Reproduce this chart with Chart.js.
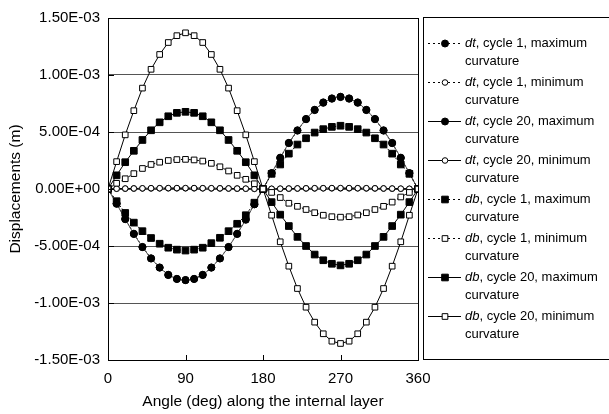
<!DOCTYPE html>
<html>
<head>
<meta charset="utf-8">
<script src="https://cdn.jsdelivr.net/npm/chart.js@4.4.1/dist/chart.umd.min.js"></script>
<style>
  html, body { margin: 0; padding: 0; background: #fff; }
  #wrap { width: 609px; height: 414px; position: relative; }
</style>
</head>
<body>
<div id="wrap"><canvas id="chart"></canvas></div>
<script>
// angle along the internal layer (deg)
const angles = [0, 10, 20, 30, 40, 50, 60, 70, 80, 90, 100, 110, 120, 130, 140, 150, 160, 170, 180,
                190, 200, 210, 220, 230, 240, 250, 260, 270, 280, 290, 300, 310, 320, 330, 340, 350, 360];

// displacements (m)
const dtMax1 = [0, -1.28e-4, -2.62e-4, -3.92e-4, -5.08e-4, -6.08e-4, -6.88e-4, -7.52e-4, -7.88e-4, -7.98e-4,
                -7.88e-4, -7.52e-4, -6.88e-4, -6.08e-4, -5.08e-4, -3.92e-4, -2.66e-4, -1.33e-4, 0,
                1.38e-4, 2.72e-4, 4.02e-4, 5.12e-4, 6.12e-4, 6.92e-4, 7.56e-4, 7.92e-4, 8.06e-4,
                7.92e-4, 7.56e-4, 6.92e-4, 6.12e-4, 5.12e-4, 4.02e-4, 2.72e-4, 1.38e-4, 0];
const dtMin1 = [0, 2e-6, 3e-6, 4e-6, 5e-6, 5e-6, 6e-6, 6e-6, 6e-6, 6e-6, 6e-6, 6e-6, 5e-6, 5e-6, 4e-6, 3e-6, 2e-6, 1e-6, 0,
                1e-6, 2e-6, 3e-6, 4e-6, 5e-6, 5e-6, 6e-6, 6e-6, 6e-6, 6e-6, 6e-6, 5e-6, 5e-6, 4e-6, 3e-6, 2e-6, 1e-6, 0];
const dtMax20 = [0, -1.3e-4, -2.65e-4, -3.95e-4, -5.1e-4, -6.1e-4, -6.9e-4, -7.55e-4, -7.9e-4, -8.0e-4,
                 -7.9e-4, -7.55e-4, -6.9e-4, -6.1e-4, -5.1e-4, -3.95e-4, -2.7e-4, -1.35e-4, 0,
                 1.4e-4, 2.75e-4, 4.05e-4, 5.15e-4, 6.15e-4, 6.95e-4, 7.6e-4, 7.95e-4, 8.1e-4,
                 7.95e-4, 7.6e-4, 6.95e-4, 6.15e-4, 5.15e-4, 4.05e-4, 2.75e-4, 1.4e-4, 0];
const dtMin20 = [0, 3e-6, 4e-6, 5e-6, 6e-6, 7e-6, 7e-6, 8e-6, 8e-6, 8e-6, 8e-6, 7e-6, 7e-6, 6e-6, 5e-6, 4e-6, 3e-6, 2e-6, 0,
                 2e-6, 3e-6, 4e-6, 5e-6, 6e-6, 7e-6, 7e-6, 8e-6, 8e-6, 8e-6, 7e-6, 7e-6, 6e-6, 5e-6, 4e-6, 3e-6, 2e-6, 0];
const dbMax1 = [0, -1.07e-4, -2.1e-4, -2.95e-4, -3.7e-4, -4.3e-4, -4.8e-4, -5.15e-4, -5.32e-4, -5.4e-4,
                -5.32e-4, -5.15e-4, -4.75e-4, -4.28e-4, -3.7e-4, -3.05e-4, -2.3e-4, -1.2e-4, 0,
                1.33e-4, 2.15e-4, 3.1e-4, 3.9e-4, 4.45e-4, 4.95e-4, 5.25e-4, 5.45e-4, 5.55e-4,
                5.45e-4, 5.25e-4, 4.95e-4, 4.45e-4, 3.9e-4, 3.1e-4, 2.15e-4, 1.33e-4, 0];
const dbMin1 = [0, 0.5e-4, 0.9e-4, 1.35e-4, 1.8e-4, 2.15e-4, 2.35e-4, 2.5e-4, 2.58e-4, 2.6e-4,
                2.55e-4, 2.45e-4, 2.25e-4, 1.95e-4, 1.58e-4, 1.2e-4, 0.85e-4, 0.46e-4, 0,
                -0.3e-4, -0.75e-4, -1.25e-4, -1.52e-4, -1.8e-4, -2.08e-4, -2.3e-4, -2.43e-4, -2.47e-4,
                -2.43e-4, -2.28e-4, -2.08e-4, -1.8e-4, -1.52e-4, -1.15e-4, -0.7e-4, -0.3e-4, 0];
const dbMax20 = [0, 1.2e-4, 2.35e-4, 3.35e-4, 4.3e-4, 5.15e-4, 5.85e-4, 6.38e-4, 6.68e-4, 6.77e-4,
                 6.68e-4, 6.38e-4, 5.85e-4, 5.15e-4, 4.3e-4, 3.35e-4, 2.35e-4, 1.2e-4, 0,
                 -1.15e-4, -2.25e-4, -3.25e-4, -4.2e-4, -5.0e-4, -5.75e-4, -6.25e-4, -6.56e-4, -6.7e-4,
                 -6.56e-4, -6.25e-4, -5.75e-4, -5.0e-4, -4.2e-4, -3.25e-4, -2.25e-4, -1.15e-4, 0];
const dbMin20 = [0, 2.4e-4, 4.75e-4, 6.87e-4, 8.85e-4, 10.5e-4, 11.8e-4, 12.85e-4, 13.45e-4, 13.7e-4,
                 13.45e-4, 12.85e-4, 11.8e-4, 10.5e-4, 8.85e-4, 6.87e-4, 4.75e-4, 2.4e-4, 0,
                 -2.3e-4, -4.63e-4, -6.77e-4, -8.73e-4, -10.37e-4, -11.68e-4, -12.7e-4, -13.35e-4, -13.55e-4,
                 -13.35e-4, -12.7e-4, -11.68e-4, -10.37e-4, -8.73e-4, -6.77e-4, -4.63e-4, -2.3e-4, 0];

const seriesLabels = [
    'dt, cycle 1, maximum curvature',
    'dt, cycle 1, minimum curvature',
    'dt, cycle 20, maximum curvature',
    'dt, cycle 20, minimum curvature',
    'db, cycle 1, maximum curvature',
    'db, cycle 1, minimum curvature',
    'db, cycle 20, maximum curvature',
    'db, cycle 20, minimum curvature'
];
const seriesValues = [dtMax1, dtMin1, dtMax20, dtMin20, dbMax1, dbMin1, dbMax20, dbMin20];

const xTickValues = [0, 90, 180, 270, 360];
const xTickLabels = ['0', '90', '180', '270', '360'];
const yTickValues = [-0.0015, -0.001, -0.0005, 0, 0.0005, 0.001, 0.0015];
const yTickLabels = ['-1.50E-03', '-1.00E-03', '-5.00E-04', '0.00E+00', '5.00E-04', '1.00E-03', '1.50E-03'];

const FONT = '"Liberation Sans", Arial, sans-serif';

// marker / line look per series
const seriesStyles = [
    { shape: 'circle', filled: true,  r: 3.5, dash: [2, 2], line: '#000' },
    { shape: 'circle', filled: false, r: 2.8, dash: [2, 2], line: '#000' },
    { shape: 'circle', filled: true,  r: 3.5, dash: [],     line: '#555' },
    { shape: 'circle', filled: false, r: 2.8, dash: [],     line: '#000' },
    { shape: 'rect',   filled: true,  r: 4.7, dash: [2, 2], line: '#000' },
    { shape: 'rect',   filled: false, r: 4.0, dash: [2, 2], line: '#000' },
    { shape: 'rect',   filled: true,  r: 4.7, dash: [],     line: '#000' },
    { shape: 'rect',   filled: false, r: 4.0, dash: [],     line: '#000' }
];

const datasets = seriesValues.map((vals, i) => {
    const s = seriesStyles[i];
    return {
        label: seriesLabels[i],
        data: angles.map((a, j) => ({ x: a, y: vals[j] })),
        borderColor: s.line,
        borderWidth: 1,
        borderDash: s.dash,
        tension: 0,
        pointStyle: s.shape,
        pointRadius: s.r,
        pointBorderWidth: 1,
        pointBorderColor: '#000',
        pointBackgroundColor: s.filled ? '#000' : '#fff',
        order: 8 - i
    };
});

// box round the plot + small inward tick marks
const framePlugin = {
    id: 'frame',
    afterDraw(chart) {
        const { ctx, chartArea: a, scales } = chart;
        ctx.save();
        ctx.strokeStyle = '#000';
        ctx.lineWidth = 1;
        ctx.strokeRect(a.left + 0.5, a.top + 0.5, a.right - a.left, a.bottom - a.top);
        ctx.beginPath();
        xTickValues.forEach(v => {
            const x = Math.round(scales.x.getPixelForValue(v)) + 0.5;
            ctx.moveTo(x, a.bottom);
            ctx.lineTo(x, a.bottom - 5);
        });
        yTickValues.forEach(v => {
            const y = Math.round(scales.y.getPixelForValue(v)) + 0.5;
            ctx.moveTo(a.left, y);
            ctx.lineTo(a.left + 6, y);
        });
        ctx.stroke();
        ctx.restore();
    }
};

// legend box on the right, two lines per entry
const legendPlugin = {
    id: 'sideLegend',
    afterDraw(chart) {
        const ctx = chart.ctx;
        ctx.save();
        ctx.strokeStyle = '#000';
        ctx.lineWidth = 1;
        ctx.strokeRect(423.5, 17.5, 220, 342);

        chart.data.datasets.forEach((ds, i) => {
            const s = seriesStyles[i];
            const y = 43 + i * 39;
            ctx.strokeStyle = s.line === '#555' ? '#000' : s.line;
            ctx.setLineDash(s.dash.length ? [2, 3] : []);
            ctx.beginPath();
            ctx.moveTo(428, y + 0.5);
            ctx.lineTo(461, y + 0.5);
            ctx.stroke();
            ctx.setLineDash([]);
            ctx.fillStyle = s.filled ? '#000' : '#fff';
            ctx.strokeStyle = '#000';
            Chart.helpers.drawPoint(ctx, {
                pointStyle: s.shape, radius: s.r, rotation: 0, borderWidth: 1
            }, 445, y + 0.5);

            const label = ds.label;
            const comma = label.indexOf(',');
            const lastSpace = label.lastIndexOf(' ');
            const head = label.slice(0, comma);
            const rest = label.slice(comma, lastSpace);
            const tail = label.slice(lastSpace + 1);
            ctx.fillStyle = '#000';
            ctx.textBaseline = 'middle';
            ctx.textAlign = 'left';
            ctx.font = 'italic 13px ' + FONT;
            ctx.fillText(head, 465, y);
            const w = ctx.measureText(head).width;
            ctx.font = '13px ' + FONT;
            ctx.fillText(rest, 465 + w, y);
            ctx.fillText(tail, 465, y + 18);
        });
        ctx.restore();
    }
};

new Chart(document.getElementById('chart'), {
    type: 'line',
    data: { datasets },
    options: {
        responsive: true,
        maintainAspectRatio: false,
        animation: false,
        devicePixelRatio: 1,
        layout: { padding: { left: 0, top: 18, right: 191, bottom: 0 } },
        plugins: {
            legend: { display: false },
            tooltip: { enabled: false }
        },
        scales: {
            x: {
                type: 'linear',
                min: 0,
                max: 360,
                afterBuildTicks: scale => { scale.ticks = xTickValues.map(v => ({ value: v })); },
                afterFit: scale => { scale.height = 54; },
                grid: { display: true, drawOnChartArea: false, drawTicks: false },
                border: { display: true, color: '#000', width: 1 },
                ticks: {
                    padding: 10,
                    color: '#000',
                    font: { family: FONT, size: 15 },
                    maxRotation: 0,
                    callback: (v, i) => xTickLabels[i]
                },
                title: {
                    display: true,
                    text: 'Angle (deg) along the internal layer',
                    color: '#000',
                    font: { family: FONT, size: 15.5 },
                    padding: { top: 0, bottom: 3 }
                }
            },
            y: {
                type: 'linear',
                min: -0.0015,
                max: 0.0015,
                afterBuildTicks: scale => { scale.ticks = yTickValues.map(v => ({ value: v })); },
                afterFit: scale => { scale.width = 108; },
                grid: { color: '#555', lineWidth: 1, drawTicks: false },
                border: { display: true, color: '#000', width: 1 },
                ticks: {
                    padding: 8,
                    color: '#000',
                    font: { family: FONT, size: 15 },
                    callback: (v, i) => yTickLabels[i]
                },
                title: {
                    display: true,
                    text: 'Displacements (m)',
                    color: '#000',
                    font: { family: FONT, size: 15.5 },
                    padding: { top: 6, bottom: 0 }
                }
            }
        }
    },
    plugins: [framePlugin, legendPlugin]
});
</script>
</body>
</html>
